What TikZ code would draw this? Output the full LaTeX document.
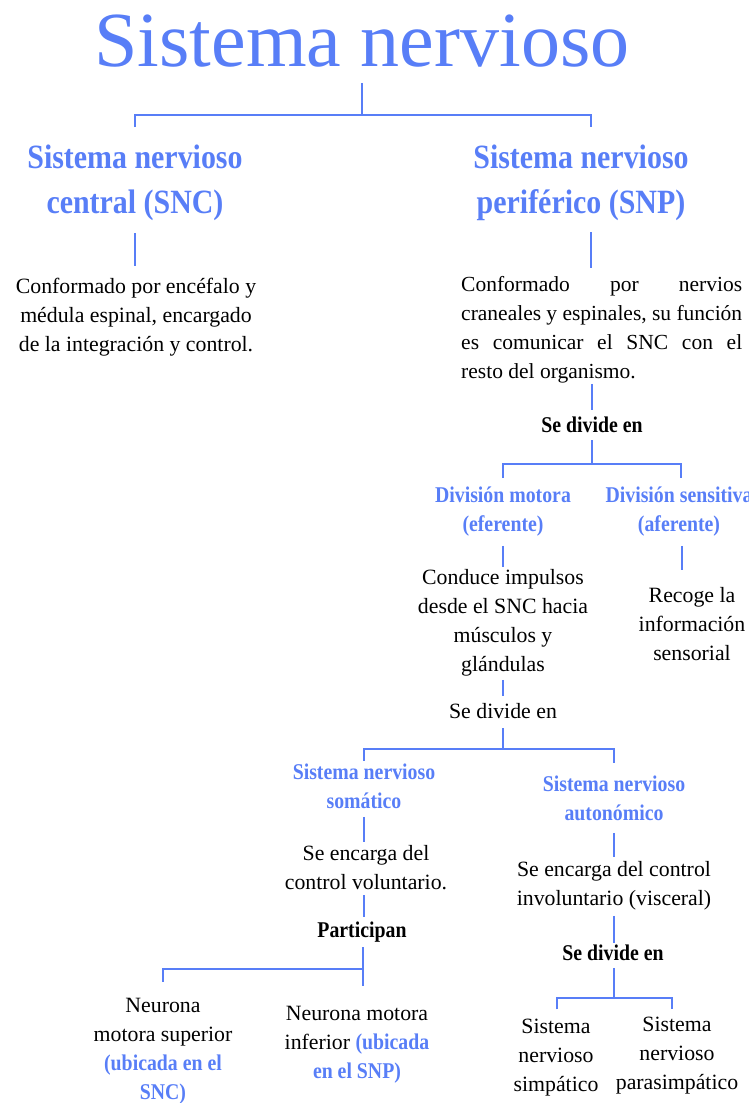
\documentclass[tikz,border=0pt]{standalone}
\usepackage{fontspec}
\setmainfont{Liberation Serif}
\newfontfamily\condbold{Liberation Serif}[FakeStretch=0.88]
\usetikzlibrary{positioning}
\definecolor{nerveblue}{RGB}{88,126,247}
\newcommand{\hl}[1]{{\color{nerveblue}\condbold\bfseries\fontsize{22.5}{29}\selectfont #1}}

\begin{document}
\begin{tikzpicture}[x=1pt,y=-1pt]
\tikzset{
  heading/.style={text=nerveblue,inner sep=0pt,align=center,font=\condbold\bfseries\fontsize{34}{45}\selectfont},
  subheading/.style={text=nerveblue,inner sep=0pt,align=center,font=\condbold\bfseries\fontsize{22.5}{29}\selectfont},
  bodytext/.style={inner sep=0pt,align=center,font=\fontsize{21.8}{29}\selectfont},
  keyword/.style={inner sep=0pt,font=\condbold\bfseries\fontsize{22.5}{29}\selectfont},
  branch/.style={draw=nerveblue,line width=1.8pt}
}
\useasboundingbox (0,0) rectangle (748,1103);
\clip (0,0) rectangle (748,1103);
\node[inner sep=0pt,text=nerveblue,font=\fontsize{78}{80}\selectfont,anchor=base] (n_title) at (362,66) {Sistema nervioso};
\node[heading,anchor=base] (n_snc) at (135,213) {Sistema nervioso\\central (SNC)};
\node[heading,anchor=base] (n_snp) at (581,213) {Sistema nervioso\\periférico (SNP)};
\node[bodytext,anchor=base] (n_snc_txt) at (136,351) {Conformado por encéfalo y\\médula espinal, encargado\\de la integración y control.};
\node[bodytext,font=\fontsize{21.5}{29}\selectfont,text width=281pt,align=justify,anchor=base west] (n_snp_txt) at (461,291) {Conformado por nervios\linebreak craneales y espinales, su función\linebreak es comunicar el SNC con el\linebreak resto del organismo.};
\node[keyword,anchor=base] (n_divide_snp) at (592,432) {Se divide en};
\node[subheading,anchor=base] (n_motora) at (503,531) {División motora\\(eferente)};
\node[subheading,anchor=base] (n_sensitiva) at (679,531) {División sensitiva\\(aferente)};
\node[bodytext,anchor=base] (n_motora_txt) at (503,671) {Conduce impulsos\\desde el SNC hacia\\músculos y\\glándulas};
\node[bodytext,anchor=base] (n_sensitiva_txt) at (692,660) {Recoge la\\información\\sensorial};
\node[bodytext,anchor=base] (n_divide_motora) at (503,718) {Se divide en};
\node[subheading,anchor=base] (n_somatico) at (364,808) {Sistema nervioso\\somático};
\node[subheading,anchor=base] (n_autonomo) at (614,820) {Sistema nervioso\\autonómico};
\node[bodytext,anchor=base] (n_somatico_txt) at (366,889) {Se encarga del\\control voluntario.};
\node[bodytext,anchor=base] (n_autonomo_txt) at (614,905) {Se encarga del control\\involuntario (visceral)};
\node[keyword,anchor=base] (n_participan) at (362,937) {Participan};
\node[keyword,anchor=base] (n_divide_auto) at (613,960) {Se divide en};
\node[bodytext,anchor=base] (n_superior) at (163,1099) {Neurona\\motora superior\\\hl{(ubicada en el}\\\hl{SNC)}};
\node[bodytext,anchor=base] (n_inferior) at (357,1078) {Neurona motora\\inferior \hl{(ubicada}\\\hl{en el SNP)}};
\node[bodytext,anchor=base] (n_simpatico) at (556,1091) {Sistema\\nervioso\\simpático};
\node[bodytext,anchor=base] (n_parasimpatico) at (677,1089) {Sistema\\nervioso\\parasimpático};
\coordinate (j_root) at (362,115);
\coordinate (j_divide_snp) at (592,464);
\coordinate (j_divide_motora) at (503,749);
\coordinate (j_participan) at (363,969);
\coordinate (j_divide_auto) at (614,998);
\draw[branch,shorten <=16pt] (n_title.south) -- (j_root);
\draw[branch,shorten <=17pt,shorten >=17pt] (n_snc.north) |- (j_root) -| ([xshift=10pt]n_snp.north);
\draw[branch,shorten <=13pt,shorten >=11pt] (n_snc.south) -- (n_snc.south |- n_snc_txt.north);
\draw[branch,shorten <=12pt,shorten >=8pt] ([xshift=10pt]n_snp.south) -- ([xshift=10pt]n_snp.south |- n_snp_txt.north);
\draw[branch,shorten <=1pt,shorten >=6pt] (n_divide_snp.north |- n_snp_txt.south) -- (n_divide_snp.north);
\draw[branch,shorten <=8pt] (n_divide_snp.south) -- (j_divide_snp);
\draw[branch,shorten <=8pt,shorten >=8pt] (n_motora.north) |- (j_divide_snp) -| ([xshift=2pt]n_sensitiva.north);
\draw[branch,shorten <=10pt,shorten >=2pt] (n_motora.south) -- (n_motora_txt.north);
\draw[branch,shorten <=10pt,shorten >=17pt] ([xshift=3pt]n_sensitiva.south) -- ([xshift=3pt]n_sensitiva.south |- n_sensitiva_txt.north);
\draw[branch,shorten <=4pt,shorten >=7pt] (n_motora_txt.south) -- (n_divide_motora.north);
\draw[branch,shorten <=10pt] (n_divide_motora.south) -- (j_divide_motora);
\draw[branch,shorten <=2.5pt,shorten >=12.5pt] (n_somatico.north) |- (j_divide_motora) -| (n_autonomo.north);
\draw[branch,shorten <=8.5pt,shorten >=3pt] (n_somatico.south) -- (n_somatico.south |- n_somatico_txt.north);
\draw[branch,shorten <=12.5pt,shorten >=4pt] (n_autonomo.south) -- (n_autonomo_txt.north);
\draw[branch,shorten <=5.5pt,shorten >=4.5pt] (n_somatico.south |- n_somatico_txt.south) -- (n_somatico.south |- n_participan.north);
\draw[branch,shorten <=5pt,shorten >=20pt] (n_participan.south -| j_participan) -- (j_participan |- n_inferior.north);
\draw[branch,shorten >=16pt] (j_participan) -| (n_superior.north);
\draw[branch,shorten <=6pt,shorten >=1.5pt] (n_autonomo_txt.south) -- (n_autonomo_txt.south |- n_divide_auto.north);
\draw[branch,shorten <=7.5pt] (n_divide_auto.south -| j_divide_auto) -- (j_divide_auto);
\draw[branch,shorten <=9pt,shorten >=7pt] ([xshift=1pt]n_simpatico.north) |- (j_divide_auto) -| ([xshift=-5pt]n_parasimpatico.north);
\end{tikzpicture}
\end{document}
